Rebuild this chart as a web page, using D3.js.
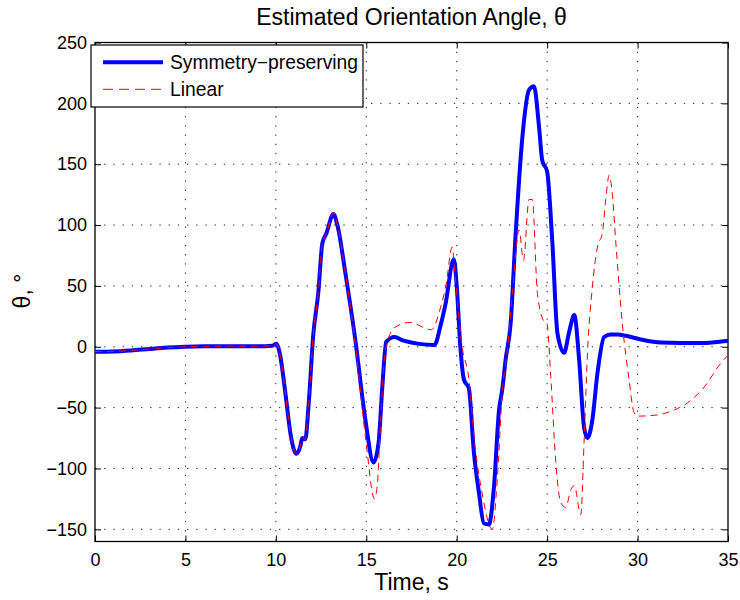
<!DOCTYPE html>
<html>
<head>
<meta charset="utf-8">
<script src="https://cdn.jsdelivr.net/npm/d3@7"></script>
<style>
  body { margin: 0; background: #fff; }
  svg text { font-family: "Liberation Sans", Arial, sans-serif; fill: #000; }
</style>
</head>
<body>
<div id="chart"></div>
<script>
// Symmetry-preserving estimate (time s, angle deg)
var symT = [0, 1, 2, 3, 4, 5, 6, 7.5, 9.4, 9.8, 10.02, 10.25, 10.5, 10.85, 11.13, 11.35, 11.46, 11.63, 11.8, 12.07, 12.35, 12.57, 12.79, 13.18, 13.4, 13.85, 14.4, 14.95, 15.4, 15.67, 15.9, 16.1, 16.56, 17.06, 18.77, 19.1, 19.38, 19.84, 20.0, 20.2, 20.4, 20.67, 20.95, 21.23, 21.5, 21.78, 22.06, 22.34, 22.52, 22.7, 22.98, 23.26, 23.63, 24.0, 24.27, 24.55, 24.73, 25.0, 25.29, 25.57, 25.94, 26.2, 26.5, 26.77, 27.04, 27.23, 27.5, 27.78, 28.15, 28.5, 28.9, 29.35, 30.18, 31.3, 33.5, 35];
var symV = [-4, -3.8, -3, -1.8, -0.7, 0, 0.4, 0.5, 0.5, 0.8, 2.5, -8, -35, -75, -88, -82, -75, -76, -50, 10, 45, 85, 93, 109, 100, 60, 5, -60, -95, -80, -30, 4, 8, 5, 1.5, 17, 35, 72, 50, 0, -27, -34, -87, -120, -145, -146, -115, -52, -35, -11, 19, 93, 172, 211, 214, 181, 153, 144, 85, 11, -5, 11, 26, -11, -66, -75, -60, -22, 8, 10, 10, 9, 6, 3.5, 3, 5];

// Linear estimate
var linT = [0, 1, 2, 3, 4, 5, 6, 7.5, 9.4, 9.8, 10.02, 10.25, 10.5, 10.85, 11.13, 11.35, 11.46, 11.63, 11.8, 12.07, 12.35, 12.57, 12.79, 13.18, 13.4, 13.9, 14.45, 15.0, 15.45, 15.6, 15.8, 16.0, 16.3, 16.65, 17.4, 18.6, 19.1, 19.4, 19.75, 19.9, 20.3, 20.66, 21.0, 21.4, 21.97, 22.25, 22.52, 22.8, 23.08, 23.45, 23.69, 24.0, 24.18, 24.46, 24.83, 24.98, 25.2, 25.47, 25.75, 26.03, 26.3, 26.5, 26.86, 27.04, 27.23, 27.5, 27.78, 28.06, 28.24, 28.43, 28.6, 28.8, 29.17, 29.53, 29.8, 30.0, 31.1, 31.84, 32.77, 33.69, 34.6, 35];
var linV = [-4, -3.8, -3, -1.8, -0.7, 0, 0.4, 0.5, 0.5, 0.8, 2.5, -8, -35, -75, -88, -82, -75, -76, -50, 10, 45, 85, 93, 110, 100, 55, -5, -80, -125, -115, -60, -10, 10, 16.6, 20, 14, 32, 50, 82, 60, 0, -25, -80, -120, -150, -107, -38, -2, 44, 96, 71, 121, 121, 44, 21, 19.6, -24.5, -93, -128, -132, -118, -114, -138, -79, -5, 49, 82, 94, 121, 141, 126, 85, 17, -27, -54, -57, -56, -53, -46, -33, -13.5, -7];

var xTicks = [0, 5, 10, 15, 20, 25, 30, 35];
var yTicks = [-150, -100, -50, 0, 50, 100, 150, 200, 250];

var width = 740, height = 600;
var plotL = 95, plotR = 728, plotT = 42.5, plotB = 541.5;

var x = d3.scaleLinear().domain([0, 35]).range([plotL, plotR]);
var y = d3.scaleLinear().domain([-160, 250]).range([plotB, plotT]);

var svg = d3.select("#chart").append("svg")
    .attr("width", width)
    .attr("height", height);

// grid
svg.append("g").selectAll("line")
    .data(xTicks.slice(1, -1))
    .enter().append("line")
    .attr("x1", function(d) { return x(d); })
    .attr("x2", function(d) { return x(d); })
    .attr("y1", plotT).attr("y2", plotB)
    .attr("stroke", "#222").attr("stroke-width", 1)
    .attr("stroke-dasharray", "1.3,7.9");

svg.append("g").selectAll("line")
    .data(yTicks)
    .enter().append("line")
    .attr("y1", function(d) { return y(d); })
    .attr("y2", function(d) { return y(d); })
    .attr("x1", plotL).attr("x2", plotR)
    .attr("stroke", "#222").attr("stroke-width", 1)
    .attr("stroke-dasharray", "1.3,7.9");

// axes (ticks inside, box on all sides)
var tl = 6;
var xBottom = d3.axisBottom(x).tickValues(xTicks).tickSizeInner(-tl).tickSizeOuter(0).tickPadding(12);
var xTop = d3.axisTop(x).tickValues(xTicks).tickSizeInner(-tl).tickSizeOuter(0).tickFormat("");
var yLeft = d3.axisLeft(y).tickValues(yTicks).tickSizeInner(-tl).tickSizeOuter(0).tickPadding(8)
    .tickFormat(function(d) { return d < 0 ? "\u2212" + Math.abs(d) : d; });
var yRight = d3.axisRight(y).tickValues(yTicks).tickSizeInner(-tl).tickSizeOuter(0).tickFormat("");

function styleAxis(g) {
  g.select(".domain").remove();
  g.selectAll("line").attr("stroke", "#000");
  g.selectAll("text").attr("font-size", 18).attr("fill", "#000")
    .style("font-family", "'Liberation Sans', Arial, sans-serif");
}

svg.append("g").attr("transform", "translate(0," + plotB + ")").call(xBottom).call(styleAxis);
svg.append("g").attr("transform", "translate(0," + plotT + ")").call(xTop).call(styleAxis);
svg.append("g").attr("transform", "translate(" + plotL + ",0)").call(yLeft).call(styleAxis);
svg.append("g").attr("transform", "translate(" + plotR + ",0)").call(yRight).call(styleAxis);

svg.append("rect")
    .attr("x", plotL).attr("y", plotT)
    .attr("width", plotR - plotL).attr("height", plotB - plotT)
    .attr("fill", "none").attr("stroke", "#000").attr("stroke-width", 1.3);

// lines
var symData = symT.map(function(t, i) { return [t, symV[i]]; });
var linData = linT.map(function(t, i) { return [t, linV[i]]; });

var line = d3.line()
    .x(function(d) { return x(d[0]); })
    .y(function(d) { return y(d[1]); })
    .curve(d3.curveMonotoneX);

svg.append("path")
    .datum(symData)
    .attr("d", line)
    .attr("fill", "none")
    .attr("stroke", "#0000ff")
    .attr("stroke-width", 4)
    .attr("stroke-linejoin", "round");

svg.append("path")
    .datum(linData)
    .attr("d", line)
    .attr("fill", "none")
    .attr("stroke", "#ff0000")
    .attr("stroke-width", 1)
    .attr("stroke-dasharray", "7,5");

// title and labels
svg.append("text")
    .attr("x", (plotL + plotR) / 2)
    .attr("y", 25)
    .attr("text-anchor", "middle")
    .attr("font-size", 23)
    .text("Estimated Orientation Angle, \u03b8");

svg.append("text")
    .attr("x", (plotL + plotR) / 2)
    .attr("y", 590)
    .attr("text-anchor", "middle")
    .attr("font-size", 23)
    .text("Time, s");

svg.append("text")
    .attr("transform", "translate(30,291) rotate(-90)")
    .attr("text-anchor", "middle")
    .attr("font-size", 23)
    .text("\u03b8, \u00b0");

// legend
var legend = svg.append("g");
legend.append("rect")
    .attr("x", 91).attr("y", 45)
    .attr("width", 272).attr("height", 62)
    .attr("fill", "#fff").attr("stroke", "#000").attr("stroke-width", 1.2);

var legendItems = [
  { name: "Symmetry\u2212preserving", color: "#0000ff", width: 4, dash: null },
  { name: "Linear", color: "#ff0000", width: 1, dash: "10,6" }
];

legend.selectAll(".item")
    .data(legendItems)
    .enter().append("g")
    .attr("class", "item")
    .attr("transform", function(d, i) { return "translate(0," + (62.3 + i * 27) + ")"; })
    .each(function(d) {
      var g = d3.select(this);
      g.append("line")
          .attr("x1", 103).attr("x2", 163)
          .attr("stroke", d.color)
          .attr("stroke-width", d.width)
          .attr("stroke-dasharray", d.dash);
      g.append("text")
          .attr("x", 170)
          .attr("y", 7)
          .attr("font-size", 19.3)
          .text(d.name);
    });
</script>
</body>
</html>
